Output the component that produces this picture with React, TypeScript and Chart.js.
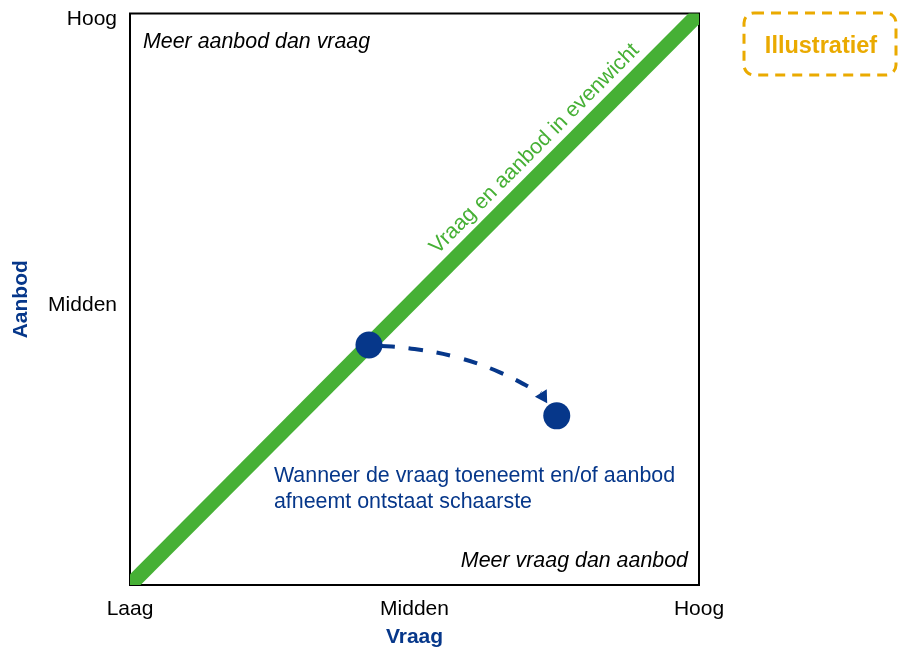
import { useEffect, useRef } from 'react';
import { Chart, registerables } from 'chart.js';

Chart.register(...registerables);

// ---- Data ----
const xTickValues = [0, 5, 10];
const xTickLabels = ['Laag', 'Midden', 'Hoog'];
const yTickValues = [5, 10];
const yTickLabels = ['Midden', 'Hoog'];
const xTitle = 'Vraag';
const yTitle = 'Aanbod';

const balanceX = [0, 10];
const balanceY = [0, 10];
const dotX = [4.2, 7.5];
const dotY = [4.2, 2.96];
const arrowX = [4.2, 5.0, 5.8, 6.5, 7.22];
const arrowY = [4.2, 4.13, 3.97, 3.72, 3.36];

const balanceLabel = 'Vraag en aanbod in evenwicht';
const topLeftLabel = 'Meer aanbod dan vraag';
const bottomRightLabel = 'Meer vraag dan aanbod';
const noteLines = ['Wanneer de vraag toeneemt en/of aanbod', 'afneemt ontstaat schaarste'];
const badgeLabel = 'Illustratief';

// ---- Style ----
const FONT = 'Arial, "Liberation Sans", sans-serif';
const BLUE = '#06378A';
const GREEN = '#46B035';
const ORANGE = '#EAAA00';

const annotationPlugin = {
  id: 'annotations',
  beforeDatasetsDraw(chart: any) {
    const { ctx, chartArea: a } = chart;
    ctx.save();
    ctx.strokeStyle = '#000';
    ctx.lineWidth = 2;
    ctx.strokeRect(a.left, a.top, a.right - a.left, a.bottom - a.top);
    ctx.restore();
  },
  afterDatasetsDraw(chart: any) {
    const { ctx, chartArea: a, scales } = chart;
    const xs = scales.x;
    const ys = scales.y;
    ctx.save();

    // corner labels
    ctx.fillStyle = '#000';
    ctx.font = `italic 21.4px ${FONT}`;
    ctx.textBaseline = 'alphabetic';
    ctx.textAlign = 'left';
    ctx.fillText(topLeftLabel, a.left + 13, a.top + 34);
    ctx.textAlign = 'right';
    ctx.fillText(bottomRightLabel, a.right - 11, a.bottom - 18.5);

    // note
    ctx.fillStyle = BLUE;
    ctx.font = `21.4px ${FONT}`;
    ctx.textAlign = 'left';
    const nx = xs.getPixelForValue(2.53);
    const ny = ys.getPixelForValue(1.8);
    noteLines.forEach((line, i) => ctx.fillText(line, nx, ny + i * 25.5));

    // arrow head
    const meta = chart.getDatasetMeta(1);
    const last = meta.data[meta.data.length - 1];
    const ang = (58 * Math.PI) / 180;
    const len = 12;
    const hw = 7;
    const bx = last.x;
    const by = last.y;
    ctx.fillStyle = BLUE;
    ctx.beginPath();
    ctx.moveTo(bx + Math.cos(ang) * len, by + Math.sin(ang) * len);
    ctx.lineTo(bx - Math.sin(ang) * hw, by + Math.cos(ang) * hw);
    ctx.lineTo(bx + Math.sin(ang) * hw, by - Math.cos(ang) * hw);
    ctx.closePath();
    ctx.fill();

    // balance label
    const p0x = xs.getPixelForValue(0), p0y = ys.getPixelForValue(0);
    const p1x = xs.getPixelForValue(10), p1y = ys.getPixelForValue(10);
    const rot = Math.atan2(p1y - p0y, p1x - p0x);
    ctx.translate(xs.getPixelForValue(7.11), ys.getPixelForValue(7.63));
    ctx.rotate(rot);
    ctx.fillStyle = GREEN;
    ctx.font = `21.4px ${FONT}`;
    ctx.textAlign = 'center';
    ctx.textBaseline = 'middle';
    ctx.fillText(balanceLabel, 0, 0);
    ctx.restore();

    // badge
    ctx.save();
    const bxl = a.right + 45, byt = 13, bw = 152, bh = 62, r = 10;
    ctx.strokeStyle = ORANGE;
    ctx.lineWidth = 3;
    ctx.setLineDash([10, 7]);
    ctx.beginPath();
    ctx.roundRect(bxl, byt, bw, bh, r);
    ctx.stroke();
    ctx.setLineDash([]);
    ctx.fillStyle = ORANGE;
    ctx.font = `bold 23.5px ${FONT}`;
    ctx.textAlign = 'center';
    ctx.textBaseline = 'alphabetic';
    ctx.fillText(badgeLabel, bxl + bw / 2 + 1, 53);
    ctx.restore();
  },
};

export default function App() {
  const ref = useRef<HTMLCanvasElement>(null);

  useEffect(() => {
    if (!ref.current) return;
    const chart = new Chart(ref.current, {
      type: 'scatter',
      data: {
        datasets: [
          {
            type: 'scatter',
            label: 'dots',
            data: dotX.map((x, i) => ({ x, y: dotY[i] })),
            pointRadius: 13.5,
            pointBackgroundColor: BLUE,
            pointBorderWidth: 0,
            showLine: false,
            clip: false,
            order: 0,
          } as any,
          {
            type: 'line',
            label: 'arrow',
            data: arrowX.map((x, i) => ({ x, y: arrowY[i] })),
            borderColor: BLUE,
            borderWidth: 4,
            borderDash: [14, 14],
            borderDashOffset: 16,
            tension: 0.4,
            pointRadius: 0,
            fill: false,
            clip: false,
            order: 1,
          } as any,
          {
            type: 'line',
            label: 'balance',
            data: balanceX.map((x, i) => ({ x, y: balanceY[i] })),
            borderColor: GREEN,
            borderWidth: 15,
            pointRadius: 0,
            fill: false,
            clip: 0,
            order: 2,
          } as any,
        ],
      },
      options: {
        responsive: false,
        devicePixelRatio: 1,
        animation: false,
        events: [],
        layout: { padding: { top: 13, right: 200, left: 0, bottom: 0 } },
        plugins: { legend: { display: false }, tooltip: { enabled: false } },
        scales: {
          x: {
            type: 'linear',
            min: 0,
            max: 10,
            grid: { display: false, drawTicks: false },
            border: { display: false },
            afterBuildTicks: (s: any) => {
              s.ticks = xTickValues.map((v) => ({ value: v }));
            },
            afterFit: (s: any) => {
              s.height = 62;
              s.paddingLeft = 0;
              s.paddingRight = 0;
            },
            ticks: {
              padding: 12,
              color: '#000',
              font: { family: FONT, size: 21, lineHeight: 1.2 },
              maxRotation: 0,
              autoSkip: false,
              callback: (v: any) => xTickLabels[xTickValues.indexOf(Number(v))] ?? '',
            },
            title: {
              display: true,
              text: xTitle,
              color: BLUE,
              font: { family: FONT, size: 21, weight: 'bold', lineHeight: 1 },
              padding: { top: 0, bottom: -1 },
            },
          },
          y: {
            type: 'linear',
            min: 0,
            max: 10,
            grid: { display: false, drawTicks: false },
            border: { display: false },
            afterBuildTicks: (s: any) => {
              s.ticks = yTickValues.map((v) => ({ value: v }));
            },
            afterFit: (s: any) => {
              s.width = 130;
              s.paddingTop = 0;
              s.paddingBottom = 0;
            },
            ticks: {
              padding: 13,
              labelOffset: 6,
              color: '#000',
              font: { family: FONT, size: 21, lineHeight: 1 },
              autoSkip: false,
              callback: (v: any) => yTickLabels[yTickValues.indexOf(Number(v))] ?? '',
            },
            title: {
              display: true,
              text: yTitle,
              color: BLUE,
              font: { family: FONT, size: 21, weight: 'bold', lineHeight: 1 },
              padding: { top: 11, bottom: 0 },
            },
          },
        },
      } as any,
      plugins: [annotationPlugin],
    });
    return () => chart.destroy();
  }, []);

  return (
    <div style={{ position: 'absolute', left: 0, top: 0, width: 899, height: 647 }}>
      <canvas ref={ref} width={899} height={647} style={{ display: 'block', width: 899, height: 647 }} />
    </div>
  );
}
